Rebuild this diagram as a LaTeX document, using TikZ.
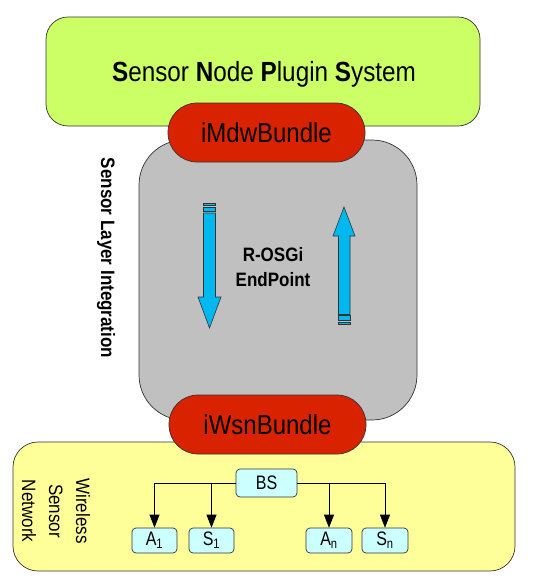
\documentclass[tikz,border=0pt]{standalone}
\usepackage{fontspec}
\setmainfont{Liberation Sans}
\usetikzlibrary{arrows.meta}
\definecolor{cgreen}{HTML}{CCFF66}
\definecolor{cred}{HTML}{D92200}
\definecolor{cgray}{HTML}{C0C0C0}
\definecolor{cyel}{HTML}{FFFF99}
\definecolor{cblue}{HTML}{00B8F0}
\definecolor{ccyan}{HTML}{CCFFFF}
\definecolor{cline}{HTML}{333333}
\newcommand{\tall}[1]{\scalebox{1}[1.14]{#1}}
\newcommand{\taller}[1]{\scalebox{1}[1.22]{#1}}
\tikzset{
  panel/.style={draw=cline, line width=0.7pt},
  bundle/.style={draw=cline, line width=0.7pt, fill=cred, rounded corners=29pt, minimum width=197pt, minimum height=59pt, inner sep=0pt, font=\fontsize{24}{28}\selectfont},
  wsnbox/.style={draw=cline, line width=0.7pt, fill=ccyan, rounded corners=4pt, inner sep=0pt, font=\fontsize{16}{18}\selectfont},
  barrow/.style={draw=cline, line width=0.6pt, fill=cblue},
  link/.style={line width=0.7pt, -{Triangle[length=13pt,width=10pt]}},
}
\begin{document}
\begin{tikzpicture}[x=1pt,y=-1pt]
\useasboundingbox (0,0) rectangle (542,581);
% panels
\draw[panel, fill=cgreen, rounded corners=22pt] (46,17) rectangle (480,126);
\node (snps) at (264,74) {\fontsize{24.3}{28}\selectfont\tall{\textbf{S}ensor \textbf{N}ode \textbf{P}lugin \textbf{S}ystem}};
\draw[panel, fill=cgray, rounded corners=45pt] (139,140) rectangle (417,420);
\draw[panel, fill=cyel, rounded corners=25pt] (13,442) rectangle (515,571);
% bundles
\node[bundle] (mdw) at (266.5,132.5) {\tall{iMdwBundle}};
\node[bundle] (wsn) at (267.5,424.5) {\tall{iWsnBundle}};
% side labels
\node[rotate=-90, font=\bfseries\fontsize{17}{20}\selectfont] (sli) at (106,258) {\tall{Sensor Layer Integration}};
\node[font=\bfseries\fontsize{17}{25}\selectfont, align=center] (rosgi) at (273,267) {\tall{R-OSGi}\\\tall{EndPoint}};
\node[rotate=-90, align=center, font=\fontsize{17}{27}\selectfont] (wsnlbl) at (56,511) {\tall{Wireless}\\\tall{Sensor}\\\tall{Network}};
% down arrow
\draw[barrow] (203.5,213) -- (215.5,213) -- (215.5,297) -- (221,297) -- (209.5,328) -- (198,297) -- (203.5,297) -- cycle;
\draw[barrow] (203.5,207.3) rectangle (215.5,211.3);
\draw[barrow] (203.5,203.3) rectangle (215.5,205.3);
% up arrow
\draw[barrow] (338.5,314.5) -- (350,314.5) -- (350,236) -- (355,236) -- (344,207) -- (333,236) -- (338.5,236) -- cycle;
\draw[barrow] (338.5,315.7) rectangle (350,320.3);
\draw[barrow] (338.5,322) rectangle (350,324.3);
% WSN nodes
\node[wsnbox, minimum width=61pt, minimum height=28pt] (bs) at (266.5,483) {\taller{BS}};
\node[wsnbox, minimum width=45pt, minimum height=25pt] (a1) at (154.5,540.5) {\taller{A\textsubscript{1}}};
\node[wsnbox, minimum width=45pt, minimum height=25pt] (s1) at (211.5,540.5) {\taller{S\textsubscript{1}}};
\node[wsnbox, minimum width=46pt, minimum height=25pt] (an) at (329,540.5) {\taller{A\textsubscript{n}}};
\node[wsnbox, minimum width=46pt, minimum height=25pt] (sn) at (385,540.5) {\taller{S\textsubscript{n}}};
\draw[link] (bs.west) -| (a1.north);
\draw[link] (bs.west) -| (s1.north);
\draw[link] (bs.east) -| (an.north);
\draw[link] (bs.east) -| (sn.north);
\end{tikzpicture}
\end{document}
